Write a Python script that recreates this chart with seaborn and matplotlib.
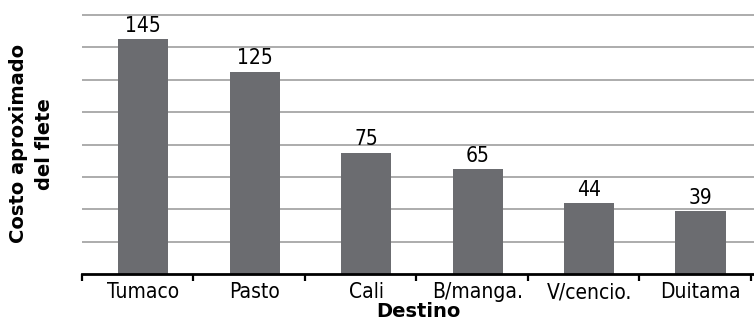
import matplotlib
matplotlib.use("Agg")
import matplotlib.pyplot as plt
import seaborn as sns
import pandas as pd

# Freight cost per destination
destinos = ["Tumaco", "Pasto", "Cali", "B/manga.", "V/cencio.", "Duitama"]
costos = [145, 125, 75, 65, 44, 39]

df = pd.DataFrame({"Destino": destinos, "Costo": costos})

sns.set_style("white")
plt.rcParams["font.family"] = ["DejaVu Sans"]
plt.rcParams["text.color"] = "black"
plt.rcParams["axes.labelcolor"] = "black"

fig = plt.figure(figsize=(7.54, 3.24), dpi=100)
ax = fig.add_axes([82 / 754, 50 / 324, 672 / 754, 260.6 / 324])

bar_color = "#6b6c70"
sns.barplot(data=df, x="Destino", y="Costo", color=bar_color, width=0.45,
            saturation=1, linewidth=0, ax=ax, zorder=3)

offset = 0.55
ax.set_ylim(0, 161)
ax.set_xlim(-offset, len(destinos) - 0.52)

# horizontal gridlines every 20 units, no y tick labels
ax.set_yticks(range(20, 161, 20))
ax.yaxis.grid(True, color="#a6a6a6", linewidth=1.3, zorder=0)
ax.tick_params(axis="y", left=False, labelleft=False)

# category labels centred, tick marks at category boundaries
label_font = dict(family="DejaVu Sans", stretch="condensed", size=15)
ax.set_xticks(range(len(destinos)))
ax.set_xticklabels(destinos, fontdict=label_font, color="black")
ax.tick_params(axis="x", which="major", bottom=False, length=0, pad=6,
               labelcolor="black")
ax.set_xticks([i - offset for i in range(len(destinos) + 1)], minor=True)
ax.tick_params(axis="x", which="minor", bottom=True, length=5, width=1.6,
               color="black", direction="out")

for side in ["top", "right", "left"]:
    ax.spines[side].set_visible(False)
ax.spines["bottom"].set_color("black")
ax.spines["bottom"].set_linewidth(2)
ax.spines["bottom"].set_zorder(4)

# value labels above each bar
for i, v in enumerate(costos):
    ax.text(i, v + 2, str(v), ha="center", va="bottom", color="black",
            fontfamily="DejaVu Sans", fontstretch="condensed", fontsize=15,
            zorder=5)

ax.set_xlabel("Destino", fontsize=14, fontweight="bold", labelpad=0,
              color="black")
ax.set_ylabel("Costo aproximado\ndel flete", fontsize=14, fontweight="bold",
              linespacing=1.45, labelpad=20, color="black")

fig.savefig("out.png", dpi=100)
